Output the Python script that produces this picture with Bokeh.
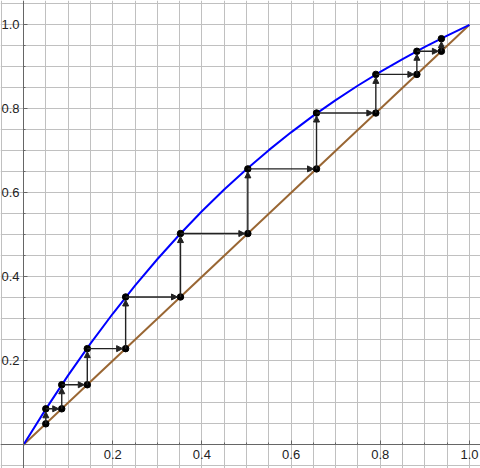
from bokeh.plotting import figure
from bokeh.models import Range1d, FixedTicker, Arrow, NormalHead, ColumnDataSource, PrintfTickFormatter
from bokeh.embed import file_html
from bokeh.resources import INLINE

# blue curve f(x)
curve_x = [0.0, 0.05, 0.10, 0.15, 0.20, 0.25, 0.30, 0.35, 0.40, 0.45, 0.50,
           0.55, 0.60, 0.65, 0.70, 0.75, 0.80, 0.85, 0.90, 0.95, 1.0]
curve_y = [0.0, 0.0850, 0.1653, 0.2408, 0.3120, 0.3789, 0.4418, 0.5007, 0.5560,
           0.6078, 0.6563, 0.7016, 0.7440, 0.7837, 0.8208, 0.8555, 0.8880,
           0.9185, 0.9473, 0.9743, 1.0]
# diagonal y = x
diag_x = [0.0, 1.0]
diag_y = [0.0, 1.0]
# cobweb orbit values
orbit = [0.05, 0.0857, 0.143, 0.229, 0.352, 0.503, 0.657, 0.790, 0.882, 0.937, 0.967]

major_ticks = [0.2, 0.4, 0.6, 0.8, 1.0]
minor_ticks = [0.05, 0.1, 0.15, 0.25, 0.3, 0.35, 0.45, 0.5, 0.55, 0.65, 0.7, 0.75,
               0.85, 0.9, 0.95]
grid_ticks = [-0.05, 0.0, 0.05, 0.1, 0.15, 0.2, 0.25, 0.3, 0.35, 0.4, 0.45, 0.5,
              0.55, 0.6, 0.65, 0.7, 0.75, 0.8, 0.85, 0.9, 0.95, 1.0, 1.05]

W, H = 480, 468
p = figure(width=W, height=H, output_backend="svg", toolbar_location=None,
           x_range=Range1d(-0.0516, 1.0247), y_range=Range1d(-0.0564, 1.0579),
           min_border=0, outline_line_color=None)
p.background_fill_color = "white"
p.border_fill_color = "white"

for ax in (p.xaxis, p.yaxis):
    ax.fixed_location = 0
    ax.ticker = FixedTicker(ticks=major_ticks, minor_ticks=minor_ticks)
    ax.formatter = PrintfTickFormatter(format="%.1f")
    ax.major_tick_in = 4
    ax.major_tick_out = 0
    ax.minor_tick_in = 2
    ax.minor_tick_out = 0
    ax.axis_line_color = "#666666"
    ax.major_tick_line_color = "#666666"
    ax.minor_tick_line_color = "#666666"
    ax.major_label_text_font = "Liberation Sans"
    ax.major_label_text_font_size = "13px"
    ax.major_label_text_color = "#222222"
p.xaxis.major_label_standoff = 5
p.yaxis.major_label_standoff = 4

p.xgrid.ticker = FixedTicker(ticks=grid_ticks)
p.ygrid.ticker = FixedTicker(ticks=grid_ticks)
p.grid.grid_line_color = "#c0c0c0"
p.grid.grid_line_width = 1

p.line(diag_x, diag_y, line_color="#996633", line_width=2)
p.line(curve_x, curve_y, line_color="#0000ff", line_width=2)

# arrows
dx = 3.0 / 446
dy = 3.0 / 420
xs0, ys0, xs1, ys1 = [], [], [], []
for i in range(len(orbit) - 1):
    a, b = orbit[i], orbit[i + 1]
    # vertical: diagonal -> curve
    xs0.append(a); ys0.append(a); xs1.append(a); ys1.append(b - dy)
    if i + 1 < len(orbit) - 1:
        # horizontal: curve -> diagonal
        xs0.append(a); ys0.append(b); xs1.append(b - dx); ys1.append(b)
src = ColumnDataSource(dict(x0=xs0, y0=ys0, x1=xs1, y1=ys1))
p.add_layout(Arrow(end=NormalHead(size=6, fill_color="#222222", line_color="#222222"),
                   x_start="x0", y_start="y0", x_end="x1", y_end="y1", source=src,
                   line_color="#222222", line_width=1.4))

px = [orbit[i] for i in range(len(orbit) - 1)] * 2
py = [orbit[i] for i in range(len(orbit) - 1)] + [orbit[i + 1] for i in range(len(orbit) - 1)]
p.scatter(px, py, size=6.5, fill_color="black", line_color="black")

open("out.html", "w").write(file_html(p, INLINE))
